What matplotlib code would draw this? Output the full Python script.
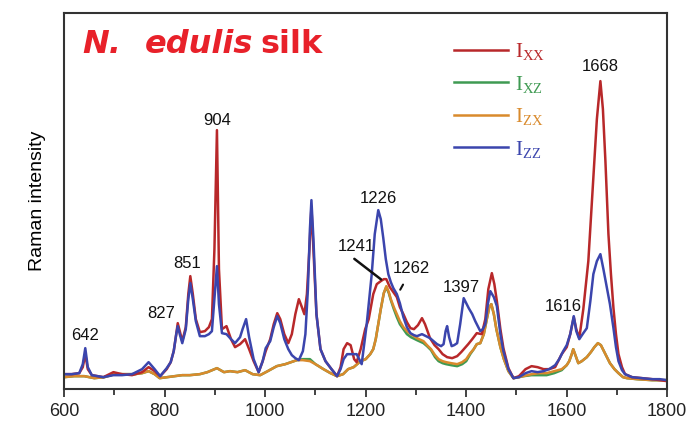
import matplotlib.pyplot as plt
from matplotlib.ticker import MultipleLocator

# Raman spectra of N. edulis silk (arbitrary intensity units)
xx_wn = [600, 615, 630, 637, 642, 647, 655, 678, 698, 715,
         735, 755, 768, 780, 791, 804, 812, 818, 823, 826,
         830, 835, 842, 847, 851, 856, 862, 870, 880, 888,
         894, 899, 904, 908, 914, 923, 932, 940, 950, 960,
         968, 977, 987, 995, 1001, 1010, 1017, 1024, 1030, 1038,
         1046, 1053, 1060, 1067, 1073, 1078, 1083, 1088, 1092, 1096,
         1102, 1110, 1120, 1132, 1143, 1150, 1156, 1163, 1170, 1177,
         1182, 1190, 1199, 1206, 1215, 1222, 1230, 1236, 1241, 1248,
         1255, 1262, 1268, 1275, 1282, 1289, 1296, 1304, 1312, 1318,
         1328, 1337, 1345, 1353, 1362, 1372, 1382, 1390, 1397, 1404,
         1412, 1421, 1431, 1438, 1444, 1451, 1456, 1461, 1468, 1474,
         1484, 1494, 1505, 1518, 1530, 1542, 1554, 1565, 1577, 1590,
         1600, 1607, 1614, 1619, 1625, 1633, 1643, 1653, 1660, 1667,
         1672, 1677, 1683, 1688, 1693, 1698, 1703, 1710, 1716, 1730,
         1750, 1770, 1785, 1800]
xx_int = [15, 15, 16, 22, 35, 20, 14, 12, 17, 15,
          14, 17, 22, 18, 13, 20, 27, 38, 55, 66,
          58, 48, 62, 95, 113, 95, 70, 57, 58, 62,
          70, 140, 259, 120, 60, 63, 50, 42, 45, 50,
          40, 28, 17, 28, 38, 50, 65, 76, 70, 55,
          46, 55, 75, 90, 82, 75, 95, 140, 182, 140,
          75, 40, 28, 20, 13, 22, 40, 46, 44, 30,
          27, 40, 60, 70, 95, 105, 108, 110, 110, 102,
          97, 92, 82, 75, 67, 61, 60, 64, 71, 65,
          51, 44, 40, 35, 32, 31, 33, 37, 41, 45,
          50, 56, 55, 70, 100, 116, 105, 88, 60, 41,
          21, 11, 13, 20, 23, 22, 20, 20, 22, 35,
          42, 55, 72, 60, 51, 80, 128, 211, 270, 308,
          280, 228, 155, 115, 81, 55, 35, 22, 15, 12,
          11, 10, 9, 8]

zz_wn = [600, 615, 630, 637, 642, 647, 655, 678, 698, 715,
         735, 755, 768, 780, 791, 804, 812, 818, 823, 826,
         830, 835, 842, 847, 851, 856, 862, 870, 880, 888,
         894, 899, 904, 908, 914, 923, 932, 940, 950, 955,
         962, 968, 977, 987, 995, 1001, 1010, 1017, 1024, 1030,
         1038, 1046, 1053, 1060, 1067, 1075, 1080, 1085, 1089, 1092,
         1096, 1102, 1110, 1120, 1132, 1143, 1150, 1156, 1163, 1170,
         1182, 1192, 1202, 1207, 1212, 1218, 1225, 1230, 1235, 1240,
         1245, 1250, 1255, 1262, 1268, 1275, 1282, 1289, 1296, 1302,
         1312, 1320, 1328, 1335, 1342, 1350, 1355, 1359, 1362, 1366,
         1371, 1376, 1382, 1388, 1395, 1400, 1405, 1412, 1418, 1428,
         1433, 1438, 1443, 1448, 1455, 1461, 1468, 1474, 1484, 1494,
         1505, 1518, 1530, 1542, 1554, 1565, 1577, 1585, 1593, 1600,
         1607, 1614, 1619, 1625, 1633, 1640, 1647, 1653, 1660, 1667,
         1673, 1680, 1686, 1693, 1698, 1703, 1710, 1716, 1730, 1750,
         1770, 1785, 1800]
zz_int = [15, 15, 16, 25, 41, 22, 14, 12, 14, 14,
          15, 20, 27, 20, 13, 21, 27, 38, 55, 63,
          55, 46, 60, 90, 106, 90, 68, 53, 53, 55,
          58, 90, 123, 85, 56, 55, 50, 46, 52, 60,
          70, 52, 30, 17, 28, 41, 48, 62, 73, 66,
          50, 40, 34, 31, 29, 38, 55, 100, 160, 189,
          150, 75, 40, 28, 20, 13, 20, 30, 35, 35,
          35, 25, 65, 90, 115, 155, 179, 170, 151, 130,
          115, 107, 101, 95, 86, 72, 62, 56, 54, 53,
          55, 53, 51, 48, 45, 43, 45, 58, 63, 52,
          43, 44, 46, 65, 91, 86, 81, 75, 68, 58,
          60, 65, 85, 98, 92, 83, 55, 38, 20, 11,
          12, 16, 18, 17, 18, 20, 24, 30, 38, 44,
          55, 73, 58, 50, 56, 61, 88, 115, 128, 135,
          120, 101, 85, 61, 42, 28, 19, 15, 12, 11,
          10, 10, 9]

zx_wn = [600, 620, 640, 660, 680, 700, 720, 740, 755, 768,
         780, 790, 805, 820, 835, 850, 870, 885, 904, 918,
         930, 945, 960, 975, 990, 1005, 1023, 1040, 1063, 1075,
         1089, 1100, 1116, 1130, 1143, 1155, 1165, 1176, 1190, 1200,
         1209, 1215, 1220, 1225, 1230, 1236, 1241, 1246, 1250, 1256,
         1262, 1268, 1275, 1282, 1290, 1302, 1315, 1322, 1330, 1338,
         1345, 1353, 1360, 1370, 1382, 1392, 1400, 1408, 1415, 1421,
         1428, 1435, 1441, 1446, 1450, 1455, 1460, 1468, 1475, 1484,
         1494, 1505, 1514, 1530, 1545, 1560, 1575, 1590, 1600, 1605,
         1610, 1613, 1618, 1623, 1630, 1640, 1648, 1655, 1662, 1668,
         1672, 1679, 1686, 1695, 1703, 1712, 1720, 1740, 1770, 1800]
zx_int = [12, 13, 13, 11, 12, 15, 15, 15, 16, 18,
          15, 11, 12, 13, 14, 14, 15, 17, 21, 17,
          18, 17, 19, 15, 14, 18, 23, 25, 29, 29,
          28, 25, 20, 16, 13, 15, 20, 22, 28, 30,
          35, 40, 50, 65, 80, 96, 103, 97, 90, 82,
          75, 68, 62, 58, 55, 51, 48, 44, 40, 34,
          30, 28, 27, 26, 25, 27, 30, 36, 40, 45,
          46, 55, 70, 82, 85, 75, 60, 42, 30, 18,
          11, 12, 13, 15, 16, 16, 18, 20, 24, 28,
          35, 40, 33, 26, 28, 32, 37, 42, 46, 44,
          40, 33, 26, 20, 16, 12, 11, 10, 9, 9]

xz_wn = zx_wn
xz_int = [12, 13, 13, 11, 12, 15, 15, 15, 16, 18,
          15, 11, 12, 13, 14, 14, 15, 17, 21, 17,
          18, 17, 19, 15, 14, 18, 23, 25, 29, 30,
          30, 25, 20, 16, 13, 15, 20, 22, 28, 30,
          35, 40, 50, 65, 80, 96, 102, 96, 89, 80,
          72, 65, 60, 55, 52, 49, 46, 43, 39, 32,
          28, 26, 25, 24, 23, 25, 28, 35, 40, 45,
          46, 55, 70, 82, 85, 75, 60, 42, 30, 18,
          11, 12, 13, 14, 14, 14, 16, 19, 24, 28,
          35, 40, 33, 26, 28, 32, 37, 42, 46, 44,
          40, 33, 26, 20, 16, 12, 11, 10, 9, 9]

# peak labels: text, x, y (data units)
peak_labels = ['642', '827', '851', '904', '1226', '1241', '1262', '1397', '1616', '1668']
peak_lx = [642, 794, 845, 904, 1225, 1182, 1291, 1391, 1594, 1667]
peak_ly = [54, 76, 126, 269, 191, 143, 121, 102, 83, 323]

series_labels = [r'$\mathregular{I_{XX}}$', r'$\mathregular{I_{XZ}}$',
                 r'$\mathregular{I_{ZX}}$', r'$\mathregular{I_{ZZ}}$']
colors = ['#b8282a', '#3f9a52', '#d98a2c', '#3b45ad']

fig = plt.figure(figsize=(6.9, 4.23), dpi=100)
ax = fig.add_axes([0.093, 0.080, 0.874, 0.889])

lw = 1.8
l_xz, = ax.plot(xz_wn, xz_int, color=colors[1], lw=lw)
l_zx, = ax.plot(zx_wn, zx_int, color=colors[2], lw=lw)
l_xx, = ax.plot(xx_wn, xx_int, color=colors[0], lw=lw)
l_zz, = ax.plot(zz_wn, zz_int, color=colors[3], lw=lw)

ax.set_xlim(600, 1800)
ax.set_ylim(0, 376)
ax.set_yticks([])
ax.set_xticks(range(600, 1801, 200))
ax.xaxis.set_minor_locator(MultipleLocator(100))
ax.tick_params(axis='x', which='major', direction='out', length=6, width=1.2,
               labelsize=13, colors='#222222', pad=4)
ax.tick_params(axis='x', which='minor', direction='out', length=4, width=1.2, colors='#222222')
for lbl in ax.get_xticklabels():
    lbl.set_fontfamily('Liberation Sans')
for s in ax.spines.values():
    s.set_color('#333333')
    s.set_linewidth(1.5)

ax.set_ylabel('Raman intensity', fontsize=14, family='Liberation Sans', labelpad=13)

for t, x, y in zip(peak_labels, peak_lx, peak_ly):
    ax.text(x, y, t, ha='center', va='center', fontsize=12, family='Liberation Sans',
            color='#111111')

# leader lines for 1241 and 1262
ax.annotate('', xy=(1235, 108), xytext=(1173, 132),
            arrowprops=dict(arrowstyle='-', lw=1.8, color='#111111'))
ax.annotate('', xy=(1266, 97), xytext=(1277, 107),
            arrowprops=dict(arrowstyle='-', lw=1.5, color='#111111'))

leg = ax.legend([l_xx, l_xz, l_zx, l_zz], series_labels, loc='upper left',
                bbox_to_anchor=(0.615, 0.975), frameon=False, handlelength=2.6,
                labelspacing=0.55, handletextpad=0.35, labelcolor='linecolor',
                prop={'family': 'Liberation Serif', 'size': 15})

# title
red = '#e8212a'
ax.text(0.03, 0.893, 'N.', transform=ax.transAxes, fontsize=23, color=red,
        fontweight='bold', fontstyle='italic', va='baseline')
ax.text(0.134, 0.893, 'edulis', transform=ax.transAxes, fontsize=23, color=red,
        fontweight='bold', fontstyle='italic', va='baseline')
ax.text(0.325, 0.893, 'silk', transform=ax.transAxes, fontsize=23, color=red,
        fontweight='bold', va='baseline')

fig.savefig('out.png', dpi=100)
